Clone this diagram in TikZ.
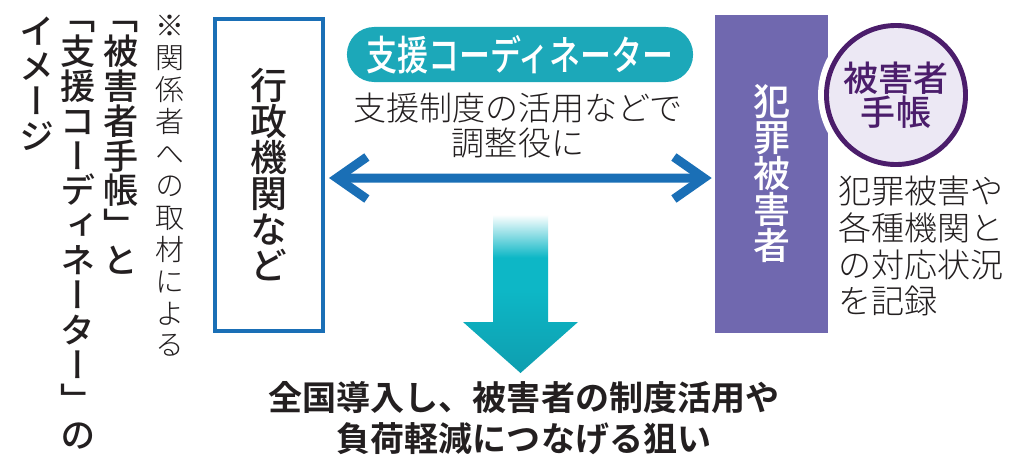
\documentclass[tikz,border=0pt]{standalone}
\usepackage{fontspec}
\setmainfont{Noto Sans CJK JP Light}
\newfontfamily\medium{Noto Sans CJK JP Medium}
\newfontfamily\tate[RawFeature=+vert]{Noto Sans CJK JP Light}
\newfontfamily\tatemedium[RawFeature=+vert]{Noto Sans CJK JP Medium}
\newfontfamily\heavy{Noto Sans CJK JP Bold}
\usetikzlibrary{arrows.meta, positioning}
\definecolor{govblue}{HTML}{1A6FB6}
\definecolor{pillteal}{HTML}{1CA8B9}
\definecolor{victimpurple}{HTML}{7068AF}
\definecolor{bookpurple}{HTML}{4B1D6B}
\definecolor{bookfill}{HTML}{ECE8F4}
\definecolor{flowteal}{HTML}{0DB7C6}
\definecolor{flowdark}{HTML}{0E9EAF}
\definecolor{ink}{HTML}{231F20}
\pgfdeclareverticalshading{flowshade}{100bp}{color(0bp)=(flowdark); color(25bp)=(flowdark); color(50bp)=(flowteal); color(60bp)=(flowteal); color(73bp)=(white); color(100bp)=(white)}

\begin{document}
\begin{tikzpicture}[x=0.025cm, y=-0.025cm, every node/.style={inner sep=0pt, text=ink},
  vert/.style={align=center, anchor=north},
  tatebold/.style={font=\tatemedium\fontsize{25pt}{24.8pt}\selectfont}]
\useasboundingbox[fill=white] (0,0) rectangle (1024,474);
% caption, top to bottom
\node[vert, font=\tate\fontsize{20.6pt}{22.7pt}\selectfont] (source) at (170,15) {※\\関\\係\\者\\へ\\の\\取\\材\\に\\よ\\る};
\node[vert, tatebold] (cap1) at (121,21) {﹁\\被\\害\\者\\手\\帳\\﹂\\と};
\node[vert, tatebold] (cap2) at (78,21) {﹁\\支\\援\\コ\\ー\\デ\\ィ\\ネ\\ー\\タ\\ー\\﹂\\の};
\node[vert, tatebold] (cap3) at (37,17) {イ\\メ\\ー\\ジ};
% the two sides
\node[draw=govblue, line width=2.85pt, minimum width=2.7cm, minimum height=7.8cm, align=center,
  font=\tatemedium\fontsize{26.3pt}{25.6pt}\selectfont] (admin) at (269,175) {行\\政\\機\\関\\な\\ど};
\node[fill=victimpurple, minimum width=2.825cm, minimum height=7.95cm, align=center, text=white,
  font=\tatemedium\fontsize{26.3pt}{25.6pt}\selectfont] (victim) at (771.5,174) {犯\\罪\\被\\害\\者};
\node[circle, draw=bookpurple, line width=3.5pt, fill=bookfill, minimum size=3.475cm,
  preaction={draw=white, line width=12pt}, align=center, text=bookpurple,
  font=\medium\fontsize{24.9pt}{22.8pt}\selectfont] (book) at (896,95) {被害者\\手帳};
\node[anchor=north west, align=left, font=\fontsize{23.5pt}{26pt}\selectfont] (record) at (838,176) {犯罪被害や\\各種機関と\\の対応状況\\を記録};
% coordinator
\node[fill=pillteal, rounded corners=0.68cm, minimum width=8.65cm, minimum height=1.375cm, text=white,
  font=\medium\fontsize{29pt}{29pt}\selectfont] (coord) at (520,54.5) {\scalebox{0.76}[1]{支援コーディネーター}};
\node[vert, font=\fontsize{23.5pt}{24.9pt}\selectfont] (role) at (518,93) {支援制度の活用などで\\調整役に};
\draw[govblue, line width=6.4pt, {Straight Barb[length=0.75cm, width=1.05cm]}-{Straight Barb[length=0.75cm, width=1.05cm]}]
  ([xshift=0.1cm, yshift=-0.075cm]admin.east) -- ([xshift=-0.075cm, yshift=-0.1cm]victim.west);
% result
\coordinate (flowtop) at (520.5,208);
\shade[shading=flowshade] (flowtop) ++(-27.5,0) -- ++(55,0) -- ++(0,114) -- ++(30,0) -- ++(-57.5,51) -- ++(-57.5,-51) -- ++(30,0) -- cycle;
\node[vert, font=\heavy\fontsize{24.2pt}{29pt}\selectfont] (goal) at (524,381) {全国導入し、被害者の制度活用や\\負荷軽減につなげる狙い};
\end{tikzpicture}
\end{document}
